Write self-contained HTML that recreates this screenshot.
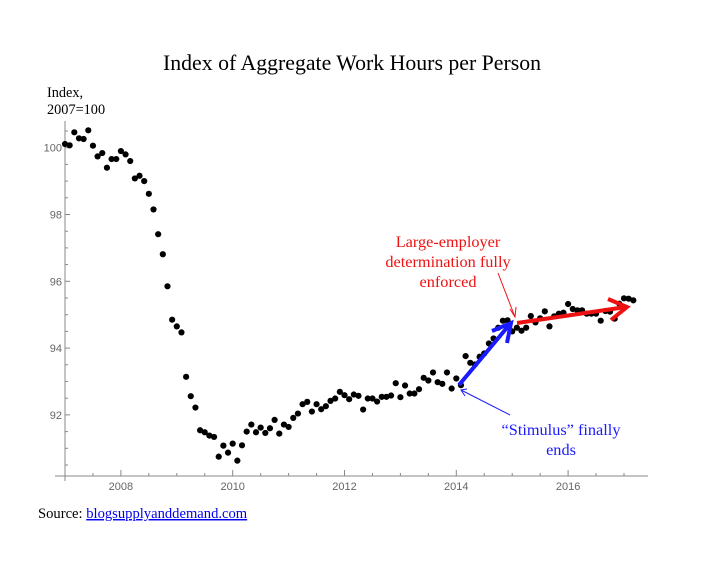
<!DOCTYPE html>
<html><head><meta charset="utf-8"><style>
body{margin:0;background:#fff;width:720px;height:557px;overflow:hidden;font-family:"Liberation Serif",serif}
</style></head><body>
<svg width="720" height="557" xmlns="http://www.w3.org/2000/svg">
<text x="352" y="70" text-anchor="middle" font-size="21.8" font-family="Liberation Serif">Index of Aggregate Work Hours per Person</text>
<text x="47" y="97" font-size="14.3" font-family="Liberation Serif">Index,</text>
<text x="47" y="114" font-size="14.3" font-family="Liberation Serif">2007=100</text>
<g id="axes"></g>
<g id="dots"></g>
<g id="ann"></g>
<text x="38" y="518" font-size="14.6" font-family="Liberation Serif">Source: <tspan fill="#0000ee" text-decoration="underline">blogsupplyanddemand.com</tspan></text>
</svg>
<script>
const startYear = 2007;
const values = [100.11,100.07,100.46,100.28,100.26,100.52,100.06,99.74,99.84,99.40,99.66,99.66,
99.90,99.80,99.60,99.08,99.16,99.00,98.62,98.15,97.41,96.81,95.85,94.85,
94.65,94.47,93.14,92.56,92.22,91.54,91.48,91.38,91.34,90.75,91.08,90.87,
91.14,90.63,91.09,91.50,91.71,91.48,91.62,91.46,91.60,91.85,91.44,91.71,
91.64,91.91,92.04,92.32,92.39,92.10,92.32,92.17,92.26,92.42,92.49,92.69,
92.59,92.47,92.61,92.57,92.16,92.49,92.49,92.40,92.54,92.54,92.58,92.95,
92.53,92.88,92.64,92.64,92.77,93.11,93.03,93.27,92.98,92.93,93.27,92.79,
93.09,92.89,93.76,93.56,93.51,93.74,93.84,94.14,94.29,94.61,94.82,94.83,
94.50,94.61,94.52,94.61,94.96,94.77,94.89,95.10,94.65,94.95,95.03,95.06,
95.32,95.17,95.13,95.13,95.03,95.03,95.03,94.82,95.11,95.09,94.88,95.33,
95.49,95.48,95.43];
const yTicks = [92,94,96,98,100];
const xTicks = [2008,2010,2012,2014,2016];
const X = t => 65 + (t - 2007) * 55.9;
const Y = v => 147.7 + (100 - v) * 33.4;
const NS = 'http://www.w3.org/2000/svg';
function mk(tag, attrs, parent){const e=document.createElementNS(NS,tag);for(const k in attrs)e.setAttribute(k,attrs[k]);parent.appendChild(e);return e;}
const axes=document.getElementById('axes');
let ax=mk('line',{x1:65,y1:121,x2:65,y2:477,stroke:'#888','stroke-width':1},axes);


let bx=mk('line',{x1:55,y1:476,x2:648,y2:476,stroke:'#888','stroke-width':1},axes);


for(let v=90.5;v<=100.7;v+=0.5){
  const major=yTicks.includes(v);
  let t=mk('line',{x1:65,x2:major?70:68,y1:Y(v),y2:Y(v),stroke:'#888'},axes);
  
  
}
yTicks.forEach(v=>{
  let l=mk('text',{x:62,y:Y(v)+4,'text-anchor':'end','font-size':11,fill:'#666','font-family':'Liberation Sans'},axes);
  l.textContent=v;
  
  
});
for(let t=2007;t<=2017.1;t+=0.5){
  const major=xTicks.includes(t);
  let k=mk('line',{x1:X(t),x2:X(t),y1:476,y2:major?470:473,stroke:'#888'},axes);
  
  
}
mk('line',{x1:65,x2:65,y1:476,y2:481,stroke:'#888'},axes);
xTicks.forEach(t=>{
  let l=mk('text',{x:X(t),y:490,'text-anchor':'middle','font-size':11,fill:'#666','font-family':'Liberation Sans'},axes);
  l.textContent=t;
  
  
});
const dots=document.getElementById('dots');
values.forEach((v,i)=>{
  let c=mk('circle',{cx:X(startYear+i/12),cy:Y(v),r:3.1,fill:'#000'},dots);
  
  
});
const ann=document.getElementById('ann');
ann.innerHTML=`
<line x1="459" y1="385" x2="510" y2="324" stroke="#1a1aff" stroke-width="4"/>
<polyline points="492,331 511,323 507,343" fill="none" stroke="#1a1aff" stroke-width="4"/>
<line x1="517" y1="323" x2="626" y2="307" stroke="#ee1111" stroke-width="4"/>
<polyline points="608,299 627,307 611,320" fill="none" stroke="#ee1111" stroke-width="4"/>
<line x1="498" y1="273" x2="515" y2="317" stroke="#ee1111" stroke-width="1"/>
<polyline points="510,309 515,317 516,307" fill="none" stroke="#ee1111" stroke-width="1"/>
<line x1="510" y1="415" x2="461" y2="390" stroke="#1a1aff" stroke-width="1"/>
<polyline points="467,389 461,390 465,396" fill="none" stroke="#1a1aff" stroke-width="1"/>
<text x="448" y="247" text-anchor="middle" font-size="16.3" fill="#ee1111" font-family="Liberation Serif">Large-employer</text>
<text x="448" y="267" text-anchor="middle" font-size="16.3" fill="#ee1111" font-family="Liberation Serif">determination fully</text>
<text x="448" y="287" text-anchor="middle" font-size="16.3" fill="#ee1111" font-family="Liberation Serif">enforced</text>
<text x="561" y="435" text-anchor="middle" font-size="16.3" fill="#1a1aff" font-family="Liberation Serif">“Stimulus” finally</text>
<text x="561" y="455" text-anchor="middle" font-size="16.3" fill="#1a1aff" font-family="Liberation Serif">ends</text>`;
</script>
</body></html>
